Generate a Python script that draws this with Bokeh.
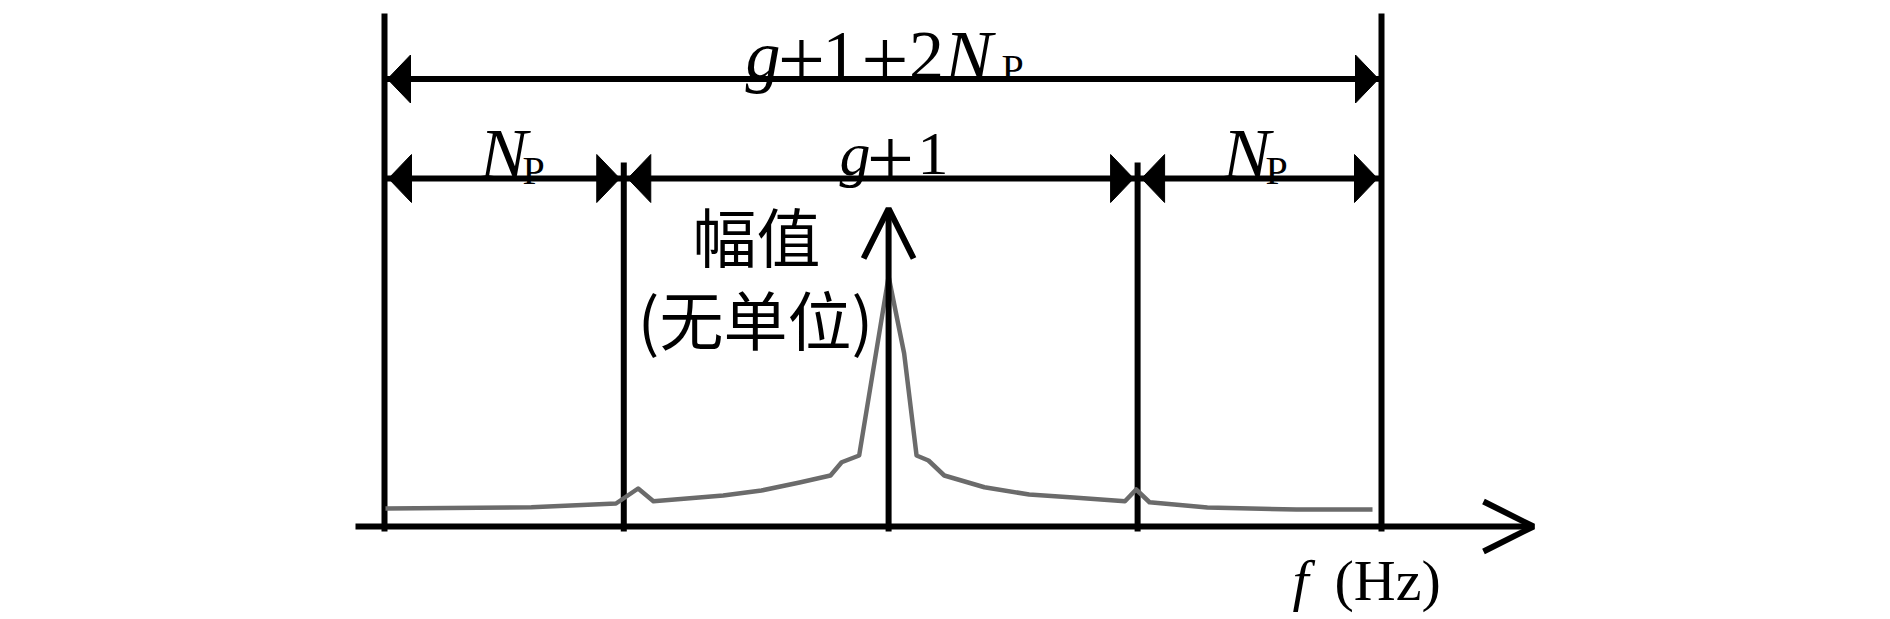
from bokeh.plotting import figure
from bokeh.models import Range1d, Arrow, OpenHead
from bokeh.core.properties import value
from bokeh.embed import file_html
from bokeh.resources import INLINE

# ---------------- data ----------------
# spectrum: frequency (bins) vs. normalised magnitude
freq_bins = [0.04, 6.04, 9.52, 10.43, 11.06, 13.93, 15.5, 17.07, 18.34, 18.8,
             19.52, 20.73, 21.37, 21.88, 22.37, 23.02, 24.67, 26.51, 28.33,
             30.45, 30.91, 31.46, 33.84, 37.5, 40.63]
magnitude = [0.072, 0.077, 0.092, 0.152, 0.101, 0.124, 0.144, 0.176, 0.204, 0.257,
             0.284, 1.0, 0.692, 0.284, 0.264, 0.204, 0.157, 0.128, 0.116,
             0.101, 0.148, 0.097, 0.076, 0.068, 0.068]
# band boundaries: N_P | g+1 | N_P
band_edges = [0.0, 9.84, 30.97, 41.0]
peak_bin = 20.73

# labels
lbl_total = ["g", "+", "1", "+", "2", "N", "P"]
lbl_np = ["N", "P"]
lbl_g1 = ["g", "+", "1"]
lbl_y = ["幅值", "(无单位)"]
lbl_x = ["f", "(Hz)"]

# ---------------- layout ----------------
W, H = 1890, 619
OFF = 0
X0_PX, KX = 384.0, 997.0 / 41.0   # screen px of bin 0, px per bin
Y0_PX, KY = 526.0, 250.0          # screen px of magnitude 0, px per unit


def X(px):
    return (px - X0_PX) / KX


def Y(py):
    return (Y0_PX - py) / KY


def dX(px):
    return px / KX


def dY(py):
    return py / KY


p = figure(width=W, height=H, output_backend="svg", toolbar_location=None,
           x_range=Range1d(X(OFF), X(OFF + W)), y_range=Range1d(Y(OFF + H), Y(OFF)),
           x_axis_type=None, y_axis_type=None, min_border=0,
           outline_line_color=None, background_fill_color="white",
           border_fill_color="white")

LW = 6
# vertical boundary lines
tops = [Y(13), Y(162), Y(162), Y(13)]
p.segment(x0=band_edges, y0=[Y(531)] * 4, x1=band_edges, y1=tops,
          line_color="black", line_width=LW)

# dimension arrows
y_top = Y(78.5)
y_row = Y(178)
p.segment(x0=[band_edges[0], band_edges[0]], y0=[y_top, y_row],
          x1=[band_edges[-1], band_edges[-1]], y1=[y_top, y_row],
          line_color="black", line_width=LW)

head_len, head_half = dX(23), dY(24)
xs, ys = [], []


def head(tip_x, y, direction):
    base = tip_x - direction * head_len
    xs.append([tip_x, base, base])
    ys.append([y, y + head_half, y - head_half])


head(band_edges[0] + dX(3), y_top, -1)
head(band_edges[-1] - dX(3), y_top, +1)
for i in range(len(band_edges) - 1):
    head(band_edges[i] + dX(4), y_row, -1)
    head(band_edges[i + 1] - dX(4), y_row, +1)
p.patches(xs, ys, fill_color="black", line_color="black", line_width=1)

# axes with open arrow heads
p.add_layout(Arrow(x_start=peak_bin, y_start=Y(531), x_end=peak_bin, y_end=Y(208),
                   line_color="black", line_width=LW,
                   end=OpenHead(size=50, line_width=LW, line_color="black")))
p.add_layout(Arrow(x_start=X(355), y_start=0, x_end=X(1533), y_end=0,
                   line_color="black", line_width=LW,
                   end=OpenHead(size=50, line_width=LW, line_color="black")))

# spectrum
p.line(freq_bins, magnitude, line_color="#6b6b6b", line_width=4.5, line_join="round")


def txt(px, py, s, size, style="normal", font="Liberation Serif",
        align="left", baseline="alphabetic"):
    p.text(x=[X(px)], y=[Y(py)], text=[s], text_font=value(font),
           text_font_size=value(f"{size}px"), text_font_style=style,
           text_align=align, text_baseline=baseline, text_color="black")


PLUS = 84
# g+1+2N_P
txt(745, 55, lbl_total[0], 70, "italic")
txt(801, 59, lbl_total[1], PLUS, align="center")
txt(839.5, 55, lbl_total[2], 70, align="center")
txt(884.5, 59, lbl_total[3], PLUS, align="center")
txt(926, 55, lbl_total[4], 70, align="center")
txt(944, 55, lbl_total[5], 72, "italic")
txt(1001, 68, lbl_total[6], 40)

# N_P left / right
for dx in (0, 743):
    txt(479 + dx, 153, lbl_np[0], 72, "italic")
    txt(522 + dx, 170, lbl_np[1], 40)

# g+1
txt(839, 153, lbl_g1[0], 62, "italic")
txt(890, 158, lbl_g1[1], PLUS, align="center")
txt(932.5, 153, lbl_g1[2], 62, align="center")

# y label
txt(756, 233, lbl_y[0], 64, font="Noto Sans CJK SC", align="center", baseline="middle")
txt(755, 316, lbl_y[1], 64, font="Noto Sans CJK SC", align="center", baseline="middle")

# x label
txt(1292, 580, lbl_x[0], 58, "italic")
txt(1334, 580, lbl_x[1], 58)

open("out.html", "w").write(file_html(p, INLINE))
